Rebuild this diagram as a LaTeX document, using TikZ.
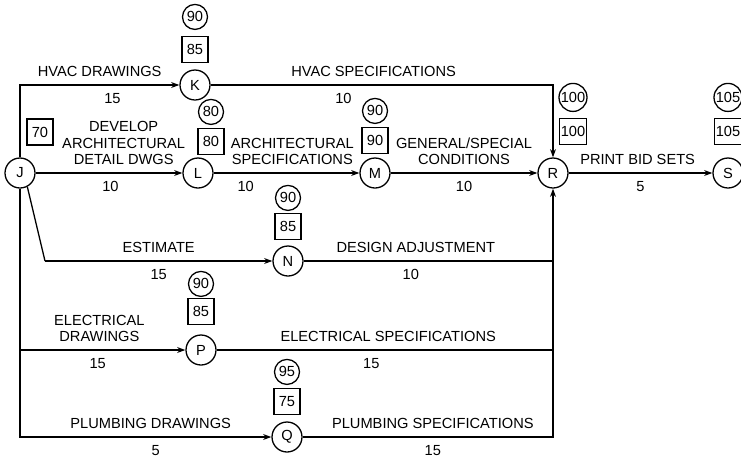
\documentclass[tikz,border=0pt]{standalone}
\usepackage{fontspec}
\setmainfont{Liberation Sans}
\usetikzlibrary{arrows.meta,positioning}

\begin{document}
\begin{tikzpicture}[
  x=0.3mm, y=-0.3mm,
  event/.style={draw, circle, minimum size=9mm, inner sep=0pt, line width=1.1pt},
  latest/.style={draw, circle, minimum size=7.5mm, inner sep=0.5pt, line width=1.1pt},
  earliest/.style={draw, rectangle, minimum size=7.8mm, inner sep=1pt, line width=1.1pt},
  act/.style={line width=1.1pt},
  arr/.style={act, -{Stealth[length=7pt, width=5pt]}},
  up/.style={above=3pt, align=center},
  dur/.style={below=3pt},
  font=\fontsize{12.5}{14}\selectfont
]
  \useasboundingbox (0,0) rectangle (741,458);

  %% Events
  \node[event] (J) at (20,173) {J};
  \node[event] (K) at (195,85) {K};
  \node[event] (L) at (198,173) {L};
  \node[event] (M) at (375,173) {M};
  \node[event] (R) at (553,173) {R};
  \node[event] (S) at (728,173) {S};
  \node[event] (N) at (288,261) {N};
  \node[event] (P) at (201,350) {P};
  \node[event] (Q) at (287,437) {Q};

  %% Early (box) and late (circle) times
  \node[earliest] (Jearly) at (40,132) {70};
  \node[earliest, above=1.8mm of K] (Kearly) {85};
  \node[latest, above=1.8mm of Kearly] (Klate) {90};
  \node[earliest, above=0.6mm of L, xshift=3.9mm] (Learly) {80};
  \node[latest, above=0.9mm of Learly] (Llate) {80};
  \node[earliest, above=0.9mm of M] (Mearly) {90};
  \node[latest, above=0.9mm of Mearly] (Mlate) {90};
  \node[earliest, above=3.6mm of R, xshift=6mm] (Rearly) {100};
  \node[latest, above=1.8mm of Rearly] (Rlate) {100};
  \node[earliest, above=3.6mm of S] (Searly) {105};
  \node[latest, above=1.8mm of Searly] (Slate) {105};
  \node[earliest, above=1.5mm of N] (Nearly) {85};
  \node[latest, above=0.6mm of Nearly] (Nlate) {90};
  \node[earliest, above=2.7mm of P] (Pearly) {85};
  \node[latest, above=0.3mm of Pearly] (Plate) {90};
  \node[earliest, above=1.8mm of Q] (Qearly) {75};
  \node[latest, above=0.9mm of Qearly] (Qlate) {95};

  %% Activities
  \draw[arr] (J) |- (K) node[pos=0.75, up] {HVAC DRAWINGS} node[pos=0.79, dur] {15};
  \draw[arr] (K) -| (R) node[pos=0.238, up] {HVAC SPECIFICATIONS} node[pos=0.194, dur] {10};
  \draw[arr] (J) -- (L) node[pos=0.6, up] {DEVELOP\\ARCHITECTURAL\\DETAIL DWGS} node[pos=0.51, dur] {10};
  \draw[arr] (L) -- (M) node[pos=0.54, up] {ARCHITECTURAL\\SPECIFICATIONS} node[pos=0.22, dur] {10};
  \draw[arr] (M) -- (R) node[midway, up] {GENERAL/SPECIAL\\CONDITIONS} node[midway, dur] {10};
  \draw[arr] (R) -- (S) node[pos=0.48, up] {PRINT BID SETS} node[midway, dur] {5};

  \coordinate (JN) at (45,261);
  \draw[act] (J.-62) -- (JN);
  \draw[arr] (JN) -- (N) node[midway, up] {ESTIMATE} node[midway, dur] {15};
  \draw[act] (N) -- (N -| R) node[pos=0.45, up] {DESIGN ADJUSTMENT} node[pos=0.43, dur] {10};

  \draw[arr] (J) |- (P) node[pos=0.74, up] {ELECTRICAL\\DRAWINGS} node[pos=0.735, dur] {15};
  \draw[act] (P) -- (P -| R) node[pos=0.51, up] {ELECTRICAL SPECIFICATIONS} node[pos=0.46, dur] {15};

  \draw[arr] (J) |- (Q) node[pos=0.76, up] {PLUMBING DRAWINGS} node[pos=0.77, dur] {5};
  \draw[arr] (Q) -| (R) node[pos=0.26, up] {PLUMBING SPECIFICATIONS} node[pos=0.26, dur] {15};
\end{tikzpicture}
\end{document}
